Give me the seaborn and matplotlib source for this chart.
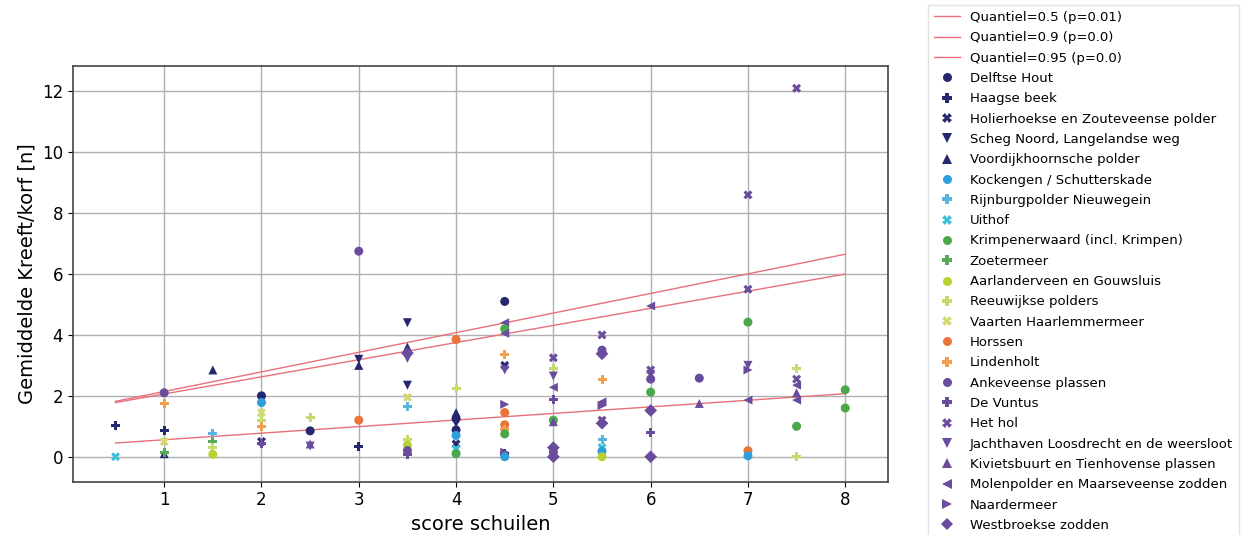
import matplotlib
matplotlib.use("Agg")
import matplotlib.pyplot as plt
import seaborn as sns
import pandas as pd

sites = ["Delftse Hout", "Haagse beek", "Holierhoekse en Zouteveense polder",
         "Scheg Noord, Langelandse weg", "Voordijkhoornsche polder",
         "Kockengen / Schutterskade", "Rijnburgpolder Nieuwegein", "Uithof",
         "Krimpenerwaard (incl. Krimpen)", "Zoetermeer", "Aarlanderveen en Gouwsluis",
         "Reeuwijkse polders", "Vaarten Haarlemmermeer", "Horssen", "Lindenholt",
         "Ankeveense plassen", "De Vuntus", "Het hol",
         "Jachthaven Loosdrecht en de weersloot", "Kivietsbuurt en Tienhovense plassen",
         "Molenpolder en Maarseveense zodden", "Naardermeer", "Westbroekse zodden"]

site_colors = ["#25286e", "#25286e", "#25286e", "#25286e", "#25286e",
               "#2d9fdc", "#5ab4e0", "#3cc0dc",
               "#4aa84a", "#5aa85a",
               "#b8d030", "#c4dc6c", "#d4d870",
               "#e8743a", "#f0a050",
               "#6a4c9c", "#6a4c9c", "#6a4c9c", "#6a4c9c", "#6a4c9c",
               "#6a4c9c", "#6a4c9c", "#6a4c9c"]

site_markers = ["o", "P", "X", "v", "^",
                "o", "P", "X",
                "o", "P",
                "o", "P", "X",
                "o", "P",
                "o", "P", "X", "v", "^", "<", ">", "D"]

# observations: site index, score schuilen, gemiddelde kreeft/korf
site_idx = [1, 7,
            15, 14, 1, 12, 4, 9,
            4, 6, 9, 11, 10,
            0, 5, 12, 11, 14, 2, 16,
            11, 0, 19, 18,
            15, 3, 4, 13, 1,
            3, 4, 22, 18, 3, 12, 6, 11, 10, 15, 16,
            13, 11, 4, 0, 3, 0, 5, 2, 7, 8,
            0, 20, 8, 20, 14, 2, 18, 21, 13, 13, 14, 8, 1, 21, 5,
            17, 11, 18, 20, 16, 8, 19, 22, 15, 22,
            17, 15, 22, 14, 20, 21, 17, 22, 6, 7, 5, 10,
            20, 17, 18, 15, 8, 22, 16, 22,
            15, 19,
            17, 17, 8, 18, 21, 20, 13, 5,
            17, 11, 17, 20, 19, 20, 8, 11,
            8, 8]
score = [0.5, 0.5,
         1, 1, 1, 1, 1, 1,
         1.5, 1.5, 1.5, 1.5, 1.5,
         2, 2, 2, 2, 2, 2, 2,
         2.5, 2.5, 2.5, 2.5,
         3, 3, 3, 3, 3,
         3.5, 3.5, 3.5, 3.5, 3.5, 3.5, 3.5, 3.5, 3.5, 3.5, 3.5,
         4, 4, 4, 4, 4, 4, 4, 4, 4, 4,
         4.5, 4.5, 4.5, 4.5, 4.5, 4.5, 4.5, 4.5, 4.5, 4.5, 4.5, 4.5, 4.5, 4.5, 4.5,
         5, 5, 5, 5, 5, 5, 5, 5, 5, 5,
         5.5, 5.5, 5.5, 5.5, 5.5, 5.5, 5.5, 5.5, 5.5, 5.5, 5.5, 5.5,
         6, 6, 6, 6, 6, 6, 6, 6,
         6.5, 6.5,
         7, 7, 7, 7, 7, 7, 7, 7,
         7.5, 7.5, 7.5, 7.5, 7.5, 7.5, 7.5, 7.5,
         8, 8]
kreeft = [1.03, 0.0,
          2.1, 1.75, 0.85, 0.5, 0.1, 0.15,
          2.85, 0.75, 0.5, 0.3, 0.08,
          2.0, 1.78, 1.45, 1.2, 0.98, 0.5, 0.45,
          1.3, 0.85, 0.42, 0.35,
          6.75, 3.2, 3.0, 1.2, 0.35,
          4.4, 3.6, 3.4, 3.23, 2.35, 1.95, 1.65, 0.55, 0.38, 0.2, 0.08,
          3.85, 2.25, 1.45, 1.25, 1.1, 0.88, 0.7, 0.42, 0.25, 0.1,
          5.1, 4.4, 4.2, 4.05, 3.35, 3.0, 2.85, 1.72, 1.45, 1.05, 0.9, 0.75, 0.12, 0.15, 0.0,
          3.25, 2.9, 2.65, 2.28, 1.88, 1.2, 1.15, 0.3, 0.15, 0.0,
          4.0, 3.5, 3.38, 2.55, 1.8, 1.68, 1.2, 1.1, 0.55, 0.3, 0.18, 0.0,
          4.95, 2.85, 2.7, 2.55, 2.12, 1.52, 0.78, 0.0,
          2.58, 1.75,
          8.6, 5.5, 4.42, 3.0, 2.85, 1.86, 0.2, 0.03,
          12.1, 2.9, 2.55, 2.35, 2.1, 1.86, 1.0, 0.02,
          2.2, 1.6]

# quantile regression lines (value at score 0.5 and at score 8)
quantile_labels = ["Quantiel=0.5 (p=0.01)", "Quantiel=0.9 (p=0.0)", "Quantiel=0.95 (p=0.0)"]
line_x = [0.5, 8.0]
quantile_y = [[0.45, 2.07], [1.78, 6.0], [1.82, 6.65]]

df = pd.DataFrame({"site": [sites[i] for i in site_idx], "score": score, "kreeft": kreeft})

fig = plt.figure(figsize=(12.41, 5.35), dpi=100)
ax = fig.add_axes([0.0586, 0.0996, 0.657, 0.777])

line_handles = []
for ys in quantile_y:
    h, = ax.plot(line_x, ys, color="#e8707a", lw=1.0, zorder=3)
    line_handles.append(h)

sns.scatterplot(data=df, x="score", y="kreeft", hue="site", style="site",
                hue_order=sites, style_order=sites,
                palette=dict(zip(sites, site_colors)),
                markers=dict(zip(sites, site_markers)),
                s=42, linewidth=0, ax=ax, zorder=4, legend="full")

leg = ax.get_legend()
pairs = [(h, t.get_text()) for h, t in zip(leg.legend_handles, leg.get_texts())
         if t.get_text() in sites]
sc_handles = [p[0] for p in pairs]
sc_labels = [p[1] for p in pairs]
leg.remove()

ax.set_xlim(0.06, 8.44)
ax.set_ylim(-0.82, 12.83)
ax.set_xticks([1, 2, 3, 4, 5, 6, 7, 8])
ax.set_yticks([0, 2, 4, 6, 8, 10, 12])
ax.grid(True, color="#b0b0b0", lw=1.0)
ax.set_axisbelow(True)
ax.tick_params(labelsize=12)
ax.set_xlabel("score schuilen", fontsize=14)
ax.set_ylabel("Gemiddelde Kreeft/korf [n]", fontsize=14)
for sp in ax.spines.values():
    sp.set_linewidth(1.2)
    sp.set_color("#444444")

fig.legend(line_handles + sc_handles, quantile_labels + sc_labels,
           loc="upper left", bbox_to_anchor=(928 / 1241, 1 - 5 / 535),
           bbox_transform=fig.transFigure, fontsize=9.5, labelspacing=0.555,
           handlelength=2.0, handletextpad=0.7, borderaxespad=0, borderpad=0.45,
           frameon=True, fancybox=False, edgecolor="#dddddd")

fig.savefig("out.png", dpi=100)
